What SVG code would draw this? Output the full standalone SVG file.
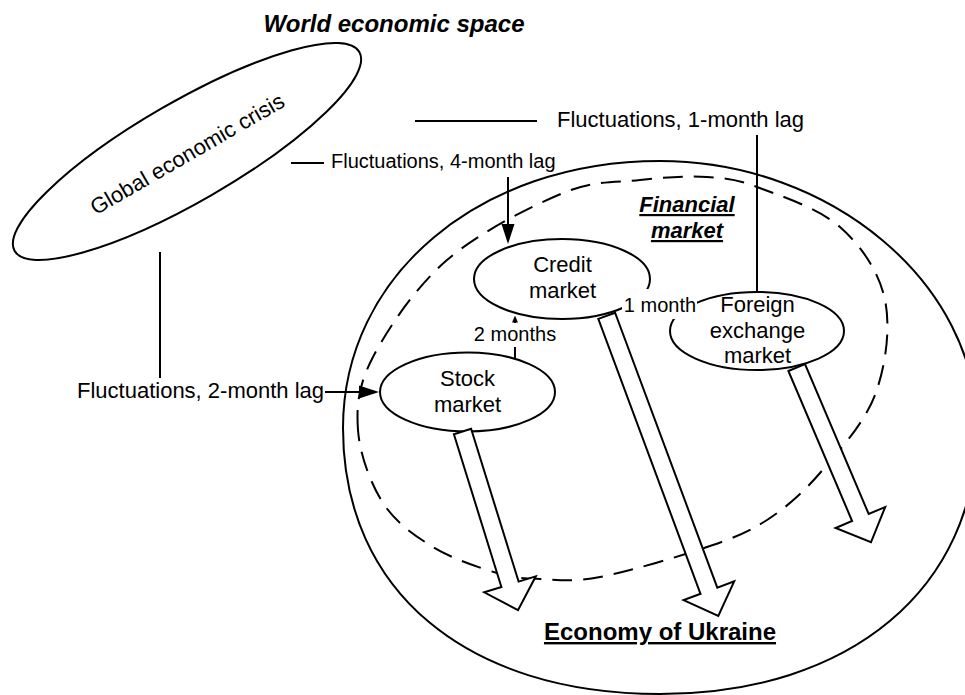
<svg xmlns="http://www.w3.org/2000/svg" width="965" height="695" viewBox="0 0 965 695">
  <style>
    text { font-family: "Liberation Sans", Arial, sans-serif; fill: #000; }
    .t22 { font-size: 22px; }
    .t20 { font-size: 20px; }
    .title { font-size: 24px; font-weight: bold; font-style: italic; }
    .fm { font-size: 22px; font-weight: bold; font-style: italic; text-decoration: underline; }
    .eco { font-size: 24px; font-weight: bold; text-decoration: underline; }
    .outline { fill: none; stroke: #000; stroke-width: 2; }
    .dash { fill: none; stroke: #000; stroke-width: 2; stroke-dasharray: 20 11; }
    .node { fill: #fff; stroke: #000; stroke-width: 2; }
    .line { fill: none; stroke: #000; stroke-width: 2; }
    .block { fill: #fff; stroke: #000; stroke-width: 2; stroke-linejoin: miter; }
    .bg { fill: #fff; }
  </style>
  <defs>
    <marker id="head" markerUnits="userSpaceOnUse" viewBox="0 0 20 14" markerWidth="20" markerHeight="14" refX="1" refY="7" orient="auto">
      <path d="M0,0.5 L20,7 L0,13.5 Z" fill="#000"/>
    </marker>
    <marker id="small-head" markerUnits="userSpaceOnUse" viewBox="0 0 7 7" markerWidth="7" markerHeight="7" refX="0.5" refY="3.5" orient="auto">
      <path d="M0,0.5 L7,3.5 L0,6.5 Z" fill="#000"/>
    </marker>
  </defs>

  <!-- Title -->
  <text class="title" x="394" y="32" text-anchor="middle">World economic space</text>

  <!-- Economy of Ukraine (outer boundary) -->
  <g id="economy-ukraine">
    <path class="outline" d="M660,161 C831.2,161 977,283.8 977,428 C977,588.2 850.2,694 660,694 C466.6,694 343,590.9 343,428 C343,275.8 479.3,161 660,161 Z"/>
    <text class="eco" x="660" y="640" text-anchor="middle">Economy of Ukraine</text>
  </g>

  <!-- Financial market (dashed boundary) -->
  <g id="financial-market">
    <path class="dash" d="M358,430 C356.3,405.7 358.2,385.3 373,357 C387.8,328.7 415.3,287.3 447,260 C478.7,232.7 530.8,206.3 563,193 C595.2,179.7 616,182.7 640,180 C664,177.3 687.5,175.8 707,177 C726.5,178.2 734.8,178.7 757,187 C779.2,195.3 818.7,208.2 840,227 C861.3,245.8 879.2,272 885,300 C890.8,328 885.8,366.2 875,395 C864.2,423.8 838,452.2 820,473 C802,493.8 785.8,507.7 767,520 C748.2,532.3 734.8,537.5 707,547 C679.2,556.5 627.8,571.7 600,577 C572.2,582.3 557.2,579.7 540,579 C522.8,578.3 514.8,578.3 497,573 C479.2,567.7 452,558.7 433,547 C414,535.3 395.5,522.5 383,503 C370.5,483.5 359.7,454.3 358,430 Z"/>
    <text class="fm" x="687" y="212" text-anchor="middle">Financial</text>
    <text class="fm" x="687" y="238" text-anchor="middle">market</text>
  </g>

  <!-- Global economic crisis -->
  <g id="global-crisis">
    <ellipse class="node" cx="187" cy="151.5" rx="199" ry="50" transform="rotate(-30 187 151.5)"/>
    <text class="t22" x="191" y="160.5" text-anchor="middle" transform="rotate(-30 191 160.5)">Global economic crisis</text>
  </g>

  <!-- Connectors -->
  <g id="connectors">
    <!-- 1-month lag: crisis to foreign exchange market -->
    <line class="line" x1="415" y1="121" x2="537" y2="121"/>
    <line class="line" x1="757" y1="135" x2="757" y2="292"/>
    <!-- 4-month lag: crisis to credit market -->
    <line class="line" x1="291" y1="163" x2="324" y2="163"/>
    <line class="line" x1="508" y1="177" x2="508" y2="225" marker-end="url(#head)"/>
    <!-- 2-month lag: crisis to stock market -->
    <line class="line" x1="160" y1="252" x2="160" y2="378"/>
    <line class="line" x1="325" y1="392" x2="360" y2="392" marker-end="url(#head)"/>
    <!-- stock market to credit market -->
    <line class="line" x1="515" y1="359" x2="515" y2="322" marker-end="url(#small-head)"/>
  </g>

  <!-- Market nodes -->
  <g id="credit-market">
    <ellipse class="node" cx="562" cy="279" rx="88" ry="40"/>
    <text class="t22" x="562.5" y="272" text-anchor="middle">Credit</text>
    <text class="t22" x="562.5" y="298" text-anchor="middle">market</text>
  </g>
  <g id="stock-market">
    <ellipse class="node" cx="467.5" cy="392" rx="87.5" ry="39.5"/>
    <text class="t22" x="467.5" y="386" text-anchor="middle">Stock</text>
    <text class="t22" x="467.5" y="412" text-anchor="middle">market</text>
  </g>
  <g id="fx-market">
    <ellipse class="node" cx="757" cy="331" rx="87" ry="39"/>
    <text class="t22" x="757.5" y="312" text-anchor="middle">Foreign</text>
    <text class="t22" x="757.5" y="337.5" text-anchor="middle">exchange</text>
    <text class="t22" x="757.5" y="363" text-anchor="middle">market</text>
  </g>

  <!-- Impact arrows into the economy -->
  <g id="impact-arrows">
    <polygon class="block" points="453.9,434.2 471.1,428.8 518.6,581.6 535.8,576.3 518,610.1 484.2,592.3 501.4,587"/>
    <polygon class="block" points="598.3,318.9 615.1,312.7 717.3,587.6 734.2,581.3 718.3,616 683.6,600.1 700.5,593.8"/>
    <polygon class="block" points="788.4,371 805,364 868.7,514 885.2,507 871,542.3 835.6,528 852.1,521"/>
  </g>

  <!-- Lag labels -->
  <g id="labels">
    <text class="t22" x="557" y="127">Fluctuations, 1-month lag</text>
    <text class="t20" x="331" y="168">Fluctuations, 4-month lag</text>
    <text class="t22" x="77" y="398">Fluctuations, 2-month lag</text>
    <rect class="bg" x="472" y="323" width="86" height="24"/>
    <text class="t20" x="515" y="341" text-anchor="middle">2 months</text>
    <rect class="bg" x="622" y="289" width="75" height="30"/>
    <text class="t20" x="660" y="312" text-anchor="middle">1 month</text>
  </g>
</svg>
